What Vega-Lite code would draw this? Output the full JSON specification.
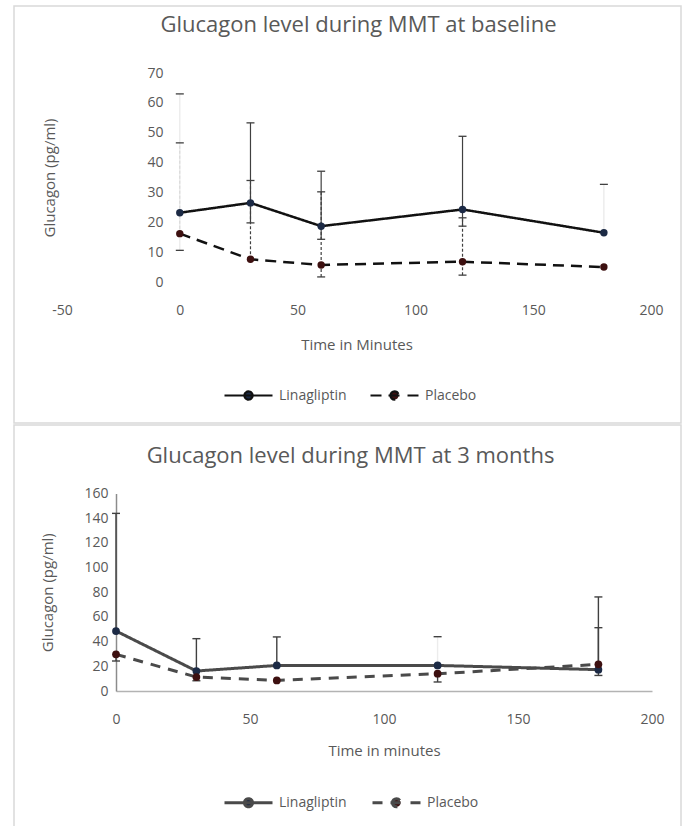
{
  "$schema": "https://vega.github.io/schema/vega-lite/v6.json",
  "background": "white",
  "padding": {"left": 13, "top": 5, "right": 0, "bottom": 0},
  "spacing": 0,
  "config": {
    "font": "Open Sans",
    "view": {"stroke": "#d9d9d9", "strokeWidth": 1.5},
    "axis": {"grid": false, "ticks": false, "labelFlush": false, "labelColor": "#595959", "titleColor": "#595959", "labelFont": "Open Sans", "titleFont": "Open Sans", "labelFontSize": 14, "titleFontSize": 15, "titleFontWeight": "normal"},
    "title": {"color": "#595959", "fontSize": 22, "fontWeight": "normal", "font": "Open Sans"},
    "legend": {"labelColor": "#595959", "labelFont": "Open Sans", "labelFontSize": 14}
  },
  "resolve": {"scale": {"x": "independent", "y": "independent", "strokeDash": "independent", "color": "independent"}, "legend": {"strokeDash": "independent", "color": "independent"}},
  "vconcat": [
    {
      "width": 667,
      "height": 417,
      "title": {"text": "Glucagon level during MMT at baseline", "anchor": "middle", "offset": -31, "baseline": "top", "dx": 11},
      "data": {"values": [
        {"t": 0, "group": "Linagliptin", "mean": 23.2, "lo": 10.6, "hi": 63},
        {"t": 30, "group": "Linagliptin", "mean": 26.5, "lo": 19.8, "hi": 53.3},
        {"t": 60, "group": "Linagliptin", "mean": 18.7, "lo": 14.3, "hi": 37.1},
        {"t": 120, "group": "Linagliptin", "mean": 24.3, "lo": 18.7, "hi": 48.8},
        {"t": 180, "group": "Linagliptin", "mean": 16.5, "lo": null, "hi": 32.7},
        {"t": 0, "group": "Placebo", "mean": 16.2, "lo": null, "hi": 46.6},
        {"t": 30, "group": "Placebo", "mean": 7.6, "lo": null, "hi": 34.0},
        {"t": 60, "group": "Placebo", "mean": 5.7, "lo": 1.7, "hi": 30.2},
        {"t": 120, "group": "Placebo", "mean": 6.8, "lo": 2.3, "hi": 21.5},
        {"t": 180, "group": "Placebo", "mean": 5.0, "lo": null, "hi": null}
      ]},
      "encoding": {
        "x": {"field": "t", "type": "quantitative", "scale": {"domain": [-50, 200], "range": [48, 637], "nice": false, "zero": false},
              "axis": {"values": [-50, 0, 50, 100, 150, 200], "labelExpr": "'' + datum.value", "domain": false, "offset": -141, "labelPadding": 21, "title": "Time in Minutes", "titlePadding": 20}},
        "y": {"field": "mean", "type": "quantitative", "title": "Glucagon (pg/ml)", "scale": {"domain": [0, 70], "range": [276, 67], "nice": false, "zero": false},
              "axis": {"values": [0, 10, 20, 30, 40, 50, 60, 70], "domain": false, "offset": -166, "labelPadding": 17, "titlePadding": 89}}
      },
      "layer": [
        {
          "transform": [{"filter": "datum.hi != null"}],
          "mark": {"type": "rule", "color": "#404040", "strokeWidth": 1.2},
          "encoding": {
            "y": {"field": "mean", "type": "quantitative", "title": "Glucagon (pg/ml)"},
            "y2": {"field": "hi"},
            "strokeDash": {"condition": {"test": "datum.group === 'Placebo'", "value": [3, 2]}, "value": [1, 0]},
            "opacity": {"condition": {"test": "datum.t === 0 || datum.t === 180", "value": 0.12}, "value": 1}
          }
        },
        {
          "transform": [{"filter": "datum.lo != null"}],
          "mark": {"type": "rule", "color": "#404040", "strokeWidth": 1.2},
          "encoding": {
            "y": {"field": "lo", "type": "quantitative", "title": "Glucagon (pg/ml)"},
            "y2": {"field": "mean"},
            "strokeDash": {"condition": {"test": "datum.group === 'Placebo'", "value": [3, 2]}, "value": [1, 0]},
            "opacity": {"condition": {"test": "datum.t === 0 || datum.t === 180", "value": 0.12}, "value": 1}
          }
        },
        {
          "transform": [{"filter": "datum.hi != null"}],
          "mark": {"type": "tick", "orient": "horizontal", "size": 8, "thickness": 1.3, "color": "#404040", "opacity": 1},
          "encoding": {"y": {"field": "hi", "type": "quantitative", "title": "Glucagon (pg/ml)"}}
        },
        {
          "transform": [{"filter": "datum.lo != null"}],
          "mark": {"type": "tick", "orient": "horizontal", "size": 8, "thickness": 1.3, "color": "#404040", "opacity": 1},
          "encoding": {"y": {"field": "lo", "type": "quantitative", "title": "Glucagon (pg/ml)"}}
        },
        {
          "mark": {"type": "line", "color": "#111111", "strokeWidth": 2.5},
          "encoding": {
            "strokeDash": {"field": "group", "type": "nominal",
              "scale": {"domain": ["Linagliptin", "Placebo"], "range": [[1, 0], [11, 7]]},
              "legend": {"orient": "none", "legendX": 209, "legendY": 364, "direction": "horizontal", "title": null,
                "symbolType": "M-1,0L-0.25,0M1,0L0.25,0M-0.25,0L0.25,0M-0.17,0A0.17,0.17 0 1 1 0.17,0A0.17,0.17 0 1 1 -0.17,0Z",
                "symbolSize": 2304, "symbolStrokeWidth": 2.2, "symbolStrokeColor": "#111111", "symbolFillColor": "#1a1a2a",
                "labelOffset": 5, "columnPadding": 19}}
          }
        },
        {
          "mark": {"type": "circle", "size": 55, "opacity": 1},
          "encoding": {
            "color": {"field": "group", "type": "nominal", "scale": {"domain": ["Linagliptin", "Placebo"], "range": ["#1c2a45", "#3d1010"]}, "legend": null}
          }
        }
      ]
    },
    {
      "width": 667,
      "height": 406,
      "title": {"text": "Glucagon level during MMT at 3 months", "anchor": "middle", "offset": -43, "baseline": "top", "dx": 3},
      "data": {"values": [
        {"t": 0, "group": "Linagliptin", "mean": 48.6, "lo": null, "hi": 143.9},
        {"t": 30, "group": "Linagliptin", "mean": 16.2, "lo": null, "hi": 42.4},
        {"t": 60, "group": "Linagliptin", "mean": 20.7, "lo": null, "hi": 43.8},
        {"t": 120, "group": "Linagliptin", "mean": 20.7, "lo": null, "hi": 44.0},
        {"t": 180, "group": "Linagliptin", "mean": 17.3, "lo": 12.6, "hi": 76.2},
        {"t": 0, "group": "Placebo", "mean": 29.7, "lo": 24.3, "hi": null},
        {"t": 30, "group": "Placebo", "mean": 11.3, "lo": 8.3, "hi": null},
        {"t": 60, "group": "Placebo", "mean": 8.6, "lo": null, "hi": null},
        {"t": 120, "group": "Placebo", "mean": 14.0, "lo": 7.3, "hi": null},
        {"t": 180, "group": "Placebo", "mean": 21.6, "lo": null, "hi": 51.3}
      ]},
      "encoding": {
        "x": {"field": "t", "type": "quantitative", "scale": {"domain": [0, 200], "range": [102, 638], "nice": false, "zero": false},
              "axis": {"values": [0, 50, 100, 150, 200], "domain": true, "domainColor": "#b3b3b3", "domainWidth": 1.5, "offset": -140, "labelPadding": 21, "title": "Time in minutes", "titlePadding": 17}},
        "y": {"field": "mean", "type": "quantitative", "title": "Glucagon (pg/ml)", "scale": {"domain": [0, 160], "range": [266, 68.5], "nice": false, "zero": false},
              "axis": {"values": [0, 20, 40, 60, 80, 100, 120, 140, 160], "domain": true, "domainColor": "#8c8c8c", "domainWidth": 1.5, "offset": -102, "labelPadding": 8, "titlePadding": 28}}
      },
      "layer": [
        {
          "transform": [{"filter": "datum.hi != null"}],
          "mark": {"type": "rule", "color": "#404040", "strokeWidth": 1.4},
          "encoding": {
            "y": {"field": "mean", "type": "quantitative", "title": "Glucagon (pg/ml)"},
            "y2": {"field": "hi"},
            "opacity": {"condition": {"test": "datum.t === 120", "value": 0.1}, "value": 1}
          }
        },
        {
          "transform": [{"filter": "datum.lo != null"}],
          "mark": {"type": "rule", "color": "#404040", "strokeWidth": 1.4},
          "encoding": {
            "y": {"field": "lo", "type": "quantitative", "title": "Glucagon (pg/ml)"},
            "y2": {"field": "mean"}
          }
        },
        {
          "transform": [{"filter": "datum.hi != null"}],
          "mark": {"type": "tick", "orient": "horizontal", "size": 8, "thickness": 1.4, "color": "#404040", "opacity": 1},
          "encoding": {"y": {"field": "hi", "type": "quantitative", "title": "Glucagon (pg/ml)"}}
        },
        {
          "transform": [{"filter": "datum.lo != null"}],
          "mark": {"type": "tick", "orient": "horizontal", "size": 8, "thickness": 1.4, "color": "#404040", "opacity": 1},
          "encoding": {"y": {"field": "lo", "type": "quantitative", "title": "Glucagon (pg/ml)"}}
        },
        {
          "mark": {"type": "line", "color": "#4a4a4a", "strokeWidth": 3},
          "encoding": {
            "strokeDash": {"field": "group", "type": "nominal",
              "scale": {"domain": ["Linagliptin", "Placebo"], "range": [[1, 0], [10, 8]]},
              "legend": {"orient": "none", "legendX": 209, "legendY": 352, "direction": "horizontal", "title": null,
                "symbolType": "M-1,0L-0.25,0M1,0L0.25,0M-0.25,0L0.25,0M-0.17,0A0.17,0.17 0 1 1 0.17,0A0.17,0.17 0 1 1 -0.17,0Z",
                "symbolSize": 2304, "symbolStrokeWidth": 3, "symbolStrokeColor": "#4a4a4a", "symbolFillColor": "#1a1a2a",
                "labelOffset": 5, "columnPadding": 19}}
          }
        },
        {
          "mark": {"type": "circle", "size": 60, "opacity": 1},
          "encoding": {
            "color": {"field": "group", "type": "nominal", "scale": {"domain": ["Linagliptin", "Placebo"], "range": ["#1c2a45", "#3d1010"]}, "legend": null}
          }
        }
      ]
    }
  ]
}
